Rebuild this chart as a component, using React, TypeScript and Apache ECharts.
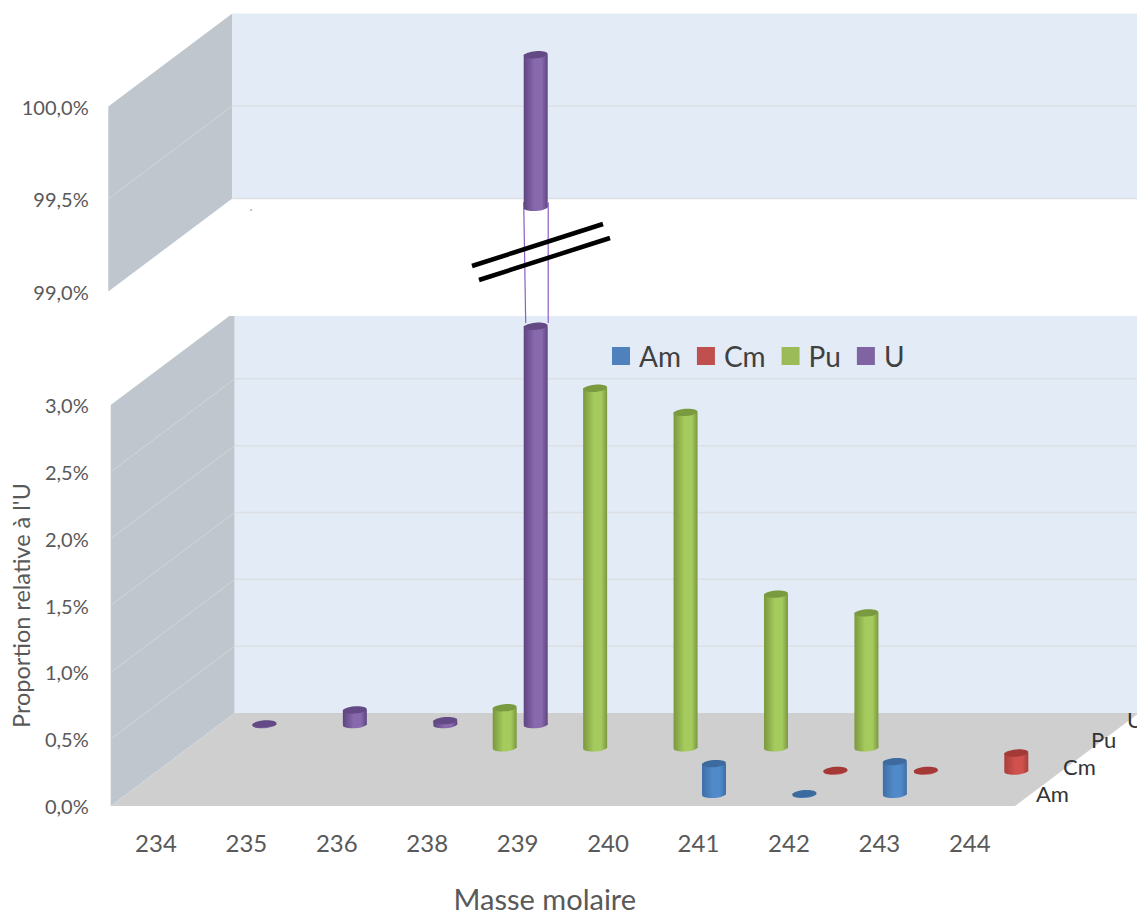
import React, { useEffect, useRef } from "react";
import * as echarts from "echarts";

const categories = ["234", "235", "236", "238", "239", "240", "241", "242", "243", "244"];
const seriesNames = ["Am", "Cm", "Pu", "U"];
const amValues = [null, null, null, null, null, null, 0.23, 0.005, 0.245, null];
const cmValues = [null, null, null, null, null, null, null, 0.005, 0.005, 0.135];
const puValues = [null, null, null, 0.3, 2.69, 2.51, 1.15, 1.01, null, null];
const uValuesLow = [0.005, 0.11, 0.03, 2.98, null, null, null, null, null, null];
const uValuesHigh = [null, null, null, 99.84, null, null, null, null, null, null];
const lowTicks = [0.5, 1, 1.5, 2, 2.5];
const highTicks = [99.5];

const FONT = "Lato";
const DX = 124;
const DY = -93;
const depthOf = [0.125, 0.375, 0.625, 0.875];

const palette = [
  { legend: "#4f81bd", edge: "#3f6ea6", mid: "#508aca", top: "#3e6b9f" },
  { legend: "#c0504d", edge: "#a83d39", mid: "#d0524e", top: "#a33a37" },
  { legend: "#9bbb59", edge: "#7b983d", mid: "#a5cb5e", top: "#7a9a3f" },
  { legend: "#8064a2", edge: "#5e4580", mid: "#8869ad", top: "#634a85" },
];

const WALL_BACK = "#e3ebf6";
const WALL_SIDE = "#bfc6ce";
const FLOOR = "#cfcfcf";
const GRID_SIDE = "#d4d6d8";
const GRID_BACK = "#dcdfe4";

const pct = (v: number) => v.toFixed(1).replace(".", ",") + "%";
const toData = (values: (number | null)[]) =>
  values.map((v, i) => (v === null ? null : [i, v])).filter(Boolean);

function cylinder(idx: number, baseValue: number) {
  const p = palette[idx];
  const ox = DX * depthOf[idx];
  const oy = DY * depthOf[idx];
  return (_params: any, api: any) => {
    const cat = api.value(0);
    const base = api.coord([cat, baseValue]);
    const top = api.coord([cat, api.value(1)]);
    const x = base[0] + ox;
    const yb = base[1] + oy;
    const yt = top[1] + oy;
    const fill = new echarts.graphic.LinearGradient(0, 0, 1, 0, [
      { offset: 0, color: p.edge },
      { offset: 0.45, color: p.mid },
      { offset: 0.75, color: p.mid },
      { offset: 1, color: p.edge },
    ]);
    const ell = (cy: number, f: any) => ({
      type: "ellipse",
      x,
      y: cy,
      rotation: 0.08,
      shape: { cx: 0, cy: 0, rx: 12, ry: 3.6 },
      style: { fill: f },
    });
    return {
      type: "group",
      children: [
        ell(yb, fill),
        { type: "rect", shape: { x: x - 12, y: yt, width: 24, height: yb - yt }, style: { fill } },
        ell(yt, p.top),
      ],
    };
  };
}

function lowerWalls(params: any, api: any) {
  const cs = params.coordSys;
  const x0 = cs.x;
  const x1 = cs.x + cs.width;
  const y0 = api.coord([0, 0])[1];
  const yTop = api.coord([0, 3])[1];
  const backTop = yTop + DY + 4;
  const cut = x0 + (DX * (yTop - backTop)) / -DY;
  const kids: any[] = [
    {
      type: "polygon",
      shape: { points: [[x0, y0], [x0, yTop], [cut, backTop], [x0 + DX, backTop], [x0 + DX, y0 + DY]] },
      style: { fill: WALL_SIDE },
    },
    {
      type: "rect",
      shape: { x: x0 + DX, y: backTop, width: x1 - x0 + 10, height: y0 + DY - backTop },
      style: { fill: WALL_BACK },
    },
    {
      type: "polygon",
      shape: { points: [[x0, y0], [x1, y0], [x1 + DX, y0 + DY], [x0 + DX, y0 + DY]] },
      style: { fill: FLOOR },
    },
  ];
  lowTicks.forEach((t) => {
    const y = api.coord([0, t])[1];
    kids.push({ type: "line", shape: { x1: x0, y1: y, x2: x0 + DX, y2: y + DY }, style: { stroke: GRID_SIDE, lineWidth: 1 } });
    kids.push({ type: "line", shape: { x1: x0 + DX, y1: y + DY, x2: x1 + DX, y2: y + DY }, style: { stroke: GRID_BACK, lineWidth: 1.5 } });
  });
  return { type: "group", children: kids };
}

function upperWalls(params: any, api: any) {
  const cs = params.coordSys;
  const x0 = cs.x - 2.4;
  const x1 = cs.x + cs.width;
  const y0 = api.coord([0, 99])[1];
  const yTop = api.coord([0, 100])[1];
  const kids: any[] = [
    {
      type: "polygon",
      shape: { points: [[x0, y0], [x0, yTop], [x0 + DX, yTop + DY], [x0 + DX, y0 + DY]] },
      style: { fill: WALL_SIDE },
    },
    {
      type: "rect",
      shape: { x: x0 + DX, y: yTop + DY, width: x1 - x0 + 10, height: y0 - yTop },
      style: { fill: WALL_BACK },
    },
    {
      type: "line",
      shape: { x1: x0 + DX, y1: y0 + DY, x2: x1 + DX + 10, y2: y0 + DY },
      style: { stroke: GRID_BACK, lineWidth: 1.5 },
    },
  ];
  highTicks.forEach((t) => {
    const y = api.coord([0, t])[1];
    kids.push({ type: "line", shape: { x1: x0, y1: y, x2: x0 + DX, y2: y + DY }, style: { stroke: GRID_SIDE, lineWidth: 1 } });
    kids.push({ type: "line", shape: { x1: x0 + DX, y1: y + DY, x2: x1 + DX + 10, y2: y + DY }, style: { stroke: GRID_BACK, lineWidth: 1.5 } });
  });
  return { type: "group", children: kids };
}

// Thin outline of the U column between the two parts of the broken axis
function breakOutline(_params: any, api: any) {
  const cat = api.value(0);
  const ox = DX * depthOf[3];
  const oy = DY * depthOf[3];
  const a = api.coord([cat, api.value(1)]);
  const b = api.coord([cat, api.value(2)]);
  const stroke = "#8a5fc4";
  const x = a[0] + ox;
  return {
    type: "group",
    children: [
      { type: "line", shape: { x1: x - 12, y1: a[1] + oy - 8, x2: x - 10, y2: b[1] + oy }, style: { stroke, lineWidth: 1.2 } },
      { type: "line", shape: { x1: x + 12.5, y1: a[1] + oy - 8, x2: x + 12.5, y2: b[1] + oy }, style: { stroke, lineWidth: 1.2 } },
    ],
  };
}

const axisText = { fontFamily: FONT, color: "#595959" };

export default function App() {
  const ref = useRef<HTMLDivElement>(null);
  useEffect(() => {
    const chart = echarts.init(ref.current!, undefined, { renderer: "svg" });
    const depthLabelPos = [
      [1036, 793],
      [1063, 766],
      [1091, 739],
      [1127, 719],
    ];
    chart.setOption({
      animation: false,
      backgroundColor: "#ffffff",
      legend: {
        data: seriesNames.map((name) => ({ name, icon: "rect" })),
        left: 607,
        top: 337,
        itemWidth: 18,
        itemHeight: 18,
        itemGap: 16,
        selectedMode: false,
        textStyle: { fontFamily: FONT, fontSize: 28, color: "#404040", padding: [0, 0, 0, 4] },
      },
      grid: [
        { left: 110.7, width: 904.3, top: 405, height: 401 },
        { left: 110.7, width: 904.3, top: 106.5, height: 185 },
      ],
      xAxis: [
        {
          type: "category",
          gridIndex: 0,
          data: categories,
          axisLine: { show: false },
          axisTick: { show: false },
          axisLabel: { ...axisText, fontSize: 24, margin: 24 },
          name: "Masse molaire",
          nameLocation: "middle",
          nameGap: 78,
          nameTextStyle: { fontFamily: FONT, fontSize: 29, color: "#595959", padding: [0, 36, 0, 0] },
        },
        { type: "category", gridIndex: 1, data: categories, show: false },
      ],
      yAxis: [
        {
          type: "value",
          gridIndex: 0,
          min: 0,
          max: 3,
          interval: 0.5,
          axisLine: { show: false },
          axisTick: { show: false },
          splitLine: { show: false },
          axisLabel: { ...axisText, fontSize: 20, margin: 22, formatter: pct },
          name: "Proportion relative à l'U",
          nameLocation: "middle",
          nameGap: 78,
          nameTextStyle: { fontFamily: FONT, fontSize: 23.5, color: "#595959" },
        },
        {
          type: "value",
          gridIndex: 1,
          min: 99,
          max: 100,
          interval: 0.5,
          axisLine: { show: false },
          axisTick: { show: false },
          splitLine: { show: false },
          axisLabel: { ...axisText, fontSize: 20, margin: 22, formatter: pct },
        },
      ],
      series: [
        { type: "custom", name: "wallsLow", xAxisIndex: 0, yAxisIndex: 0, z: 1, silent: true, data: [[0, 0]], renderItem: lowerWalls },
        { type: "custom", name: "wallsHigh", xAxisIndex: 1, yAxisIndex: 1, z: 1, silent: true, data: [[0, 99]], renderItem: upperWalls },
        { type: "custom", name: "U", xAxisIndex: 0, yAxisIndex: 0, z: 3, silent: true, itemStyle: { color: palette[3].legend }, data: toData(uValuesLow), renderItem: cylinder(3, 0) },
        { type: "custom", name: "U high", xAxisIndex: 1, yAxisIndex: 1, z: 3, silent: true, itemStyle: { color: palette[3].legend }, data: toData(uValuesHigh), renderItem: cylinder(3, 99.015) },
        { type: "custom", name: "U break", xAxisIndex: 1, yAxisIndex: 1, z: 2, silent: true, data: [[3, 99, 98.39]], renderItem: breakOutline },
        { type: "custom", name: "Pu", xAxisIndex: 0, yAxisIndex: 0, z: 4, silent: true, itemStyle: { color: palette[2].legend }, data: toData(puValues), renderItem: cylinder(2, 0) },
        { type: "custom", name: "Cm", xAxisIndex: 0, yAxisIndex: 0, z: 5, silent: true, itemStyle: { color: palette[1].legend }, data: toData(cmValues), renderItem: cylinder(1, 0) },
        { type: "custom", name: "Am", xAxisIndex: 0, yAxisIndex: 0, z: 6, silent: true, itemStyle: { color: palette[0].legend }, data: toData(amValues), renderItem: cylinder(0, 0) },
      ],
      graphic: [
        ...seriesNames.map((name, i) => ({
          type: "text",
          x: depthLabelPos[i][0],
          y: depthLabelPos[i][1],
          z: 10,
          style: { text: name, fontFamily: FONT, fontSize: 22, fill: "#333333", verticalAlign: "middle", align: "left" },
        })),
        { type: "line", z: 20, shape: { x1: 472, y1: 266, x2: 603, y2: 224 }, style: { stroke: "#000000", lineWidth: 4.5 } },
        { type: "line", z: 20, shape: { x1: 479, y1: 280, x2: 610, y2: 238 }, style: { stroke: "#000000", lineWidth: 4.5 } },
        { type: "circle", z: 20, shape: { cx: 251, cy: 210, r: 0.7 }, style: { fill: "#6a5a90" } },
      ],
    });
    return () => chart.dispose();
  }, []);
  return <div ref={ref} style={{ position: "absolute", left: 0, top: 0, width: 1137, height: 915 }} />;
}
